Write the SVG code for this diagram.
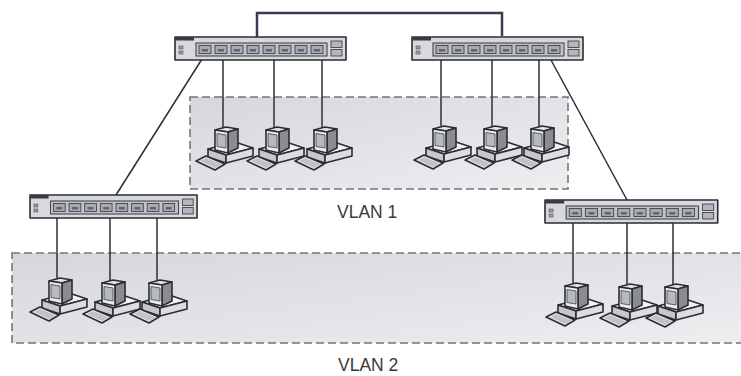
<svg xmlns="http://www.w3.org/2000/svg" width="741" height="376" viewBox="0 0 741 376">
  <style>
    .vlan { stroke: #74747a; stroke-width: 1.6; stroke-dasharray: 8 4; }
    .link { stroke: #3a3a52; stroke-width: 2.5; fill: none; }
    .drop { stroke: #2e2e36; stroke-width: 1.5; fill: none; }
    .label { font-family: "Liberation Sans", Arial, sans-serif; font-size: 17.5px; fill: #3a3a3e; }
    .ol { stroke: #2c2c32; stroke-width: 1.6; stroke-linejoin: round; }
  </style>
  <defs>
    <linearGradient id="vlanFill" x1="0" y1="0" x2="1" y2="1">
      <stop offset="0" stop-color="#d6d7dc"/>
      <stop offset="1" stop-color="#eeeef1"/>
    </linearGradient>

    <!-- 8-port switch, origin at top-left corner, 171 x 23 -->
    <g id="switch">
      <rect x="0" y="0" width="171" height="23" fill="#d7d9dd" class="ol"/>
      <rect x="0" y="0" width="19" height="3.5" fill="#3a3a44"/>
      <rect x="4" y="9" width="4" height="3" fill="#9a9ca2" stroke="#555" stroke-width="0.6"/>
      <rect x="4" y="14" width="4" height="3" fill="#9a9ca2" stroke="#555" stroke-width="0.6"/>
      <rect x="21" y="6" width="131" height="13" fill="#c0c3c8" stroke="#46464e" stroke-width="1.1"/>
      <g fill="#a6aab1" stroke="#44444c" stroke-width="0.9">
        <rect x="24" y="8.5" width="12" height="8"/>
        <rect x="40" y="8.5" width="12" height="8"/>
        <rect x="56" y="8.5" width="12" height="8"/>
        <rect x="72" y="8.5" width="12" height="8"/>
        <rect x="88" y="8.5" width="12" height="8"/>
        <rect x="104" y="8.5" width="12" height="8"/>
        <rect x="120" y="8.5" width="12" height="8"/>
        <rect x="136" y="8.5" width="12" height="8"/>
      </g>
      <g fill="#60646c">
        <rect x="27" y="12" width="6" height="2.5"/>
        <rect x="43" y="12" width="6" height="2.5"/>
        <rect x="59" y="12" width="6" height="2.5"/>
        <rect x="75" y="12" width="6" height="2.5"/>
        <rect x="91" y="12" width="6" height="2.5"/>
        <rect x="107" y="12" width="6" height="2.5"/>
        <rect x="123" y="12" width="6" height="2.5"/>
        <rect x="139" y="12" width="6" height="2.5"/>
      </g>
      <rect x="156" y="4" width="11" height="6.5" fill="#b3b7bd" stroke="#44444c" stroke-width="0.9"/>
      <rect x="156" y="12.5" width="11" height="6.5" fill="#b3b7bd" stroke="#44444c" stroke-width="0.9"/>
    </g>

    <!-- desktop PC, origin at the cable entry on top of the monitor -->
    <g id="pc">
      <!-- system unit -->
      <polygon points="-15,21 12,14 30,20 3,27" fill="#f3f3f4" class="ol"/>
      <polygon points="-15,21 3,27 3,35 -15,29" fill="#c6c7cb" class="ol"/>
      <polygon points="3,27 30,20 30,28 3,35" fill="#dcdde0" class="ol"/>
      <!-- monitor -->
      <polygon points="-8,2 3,-1 15,1 5,4" fill="#e2e3e6" class="ol"/>
      <polygon points="5,4 15,1 15,20 5,25" fill="#8a8c92" class="ol"/>
      <polygon points="-8,2 5,4 5,25 -8,22" fill="#ececee" class="ol"/>
      <polygon points="-6,5.5 3,7 3,20 -6,18.5" fill="#b5b9c0" stroke="#4e5056" stroke-width="0.9"/>
      <!-- keyboard -->
      <polygon points="-27,33 -17,28 2,36 -8,42" fill="#e9e9eb" class="ol"/>
      <polygon points="-23,33 -17,30 -1,36.5 -8,40" fill="#c0c2c6" stroke="none"/>
    </g>
  </defs>

  <rect width="741" height="376" fill="#ffffff"/>

  <!-- VLAN areas -->
  <g id="vlan1">
    <rect x="190" y="97" width="378" height="92" fill="url(#vlanFill)" class="vlan"/>
    <text x="337" y="218" class="label">VLAN 1</text>
  </g>
  <g id="vlan2">
    <rect x="12" y="253" width="735" height="90" fill="url(#vlanFill)" class="vlan"/>
    <text x="338" y="371" class="label">VLAN 2</text>
  </g>

  <!-- connectors -->
  <g id="connectors">
    <polyline points="257,37 257,13 502,13 502,36" class="link"/>
    <line x1="202" y1="59" x2="116" y2="195" class="drop"/>
    <line x1="551" y1="60" x2="627" y2="200" class="drop"/>
    <line x1="223" y1="59" x2="223" y2="128" class="drop"/>
    <line x1="274" y1="59" x2="274" y2="128" class="drop"/>
    <line x1="322" y1="59" x2="322" y2="128" class="drop"/>
    <line x1="441" y1="60" x2="441" y2="127" class="drop"/>
    <line x1="492" y1="60" x2="492" y2="127" class="drop"/>
    <line x1="539" y1="60" x2="539" y2="127" class="drop"/>
    <line x1="57" y1="218" x2="57" y2="279" class="drop"/>
    <line x1="110" y1="218" x2="110" y2="281" class="drop"/>
    <line x1="157" y1="218" x2="157" y2="281" class="drop"/>
    <line x1="573" y1="223" x2="573" y2="284" class="drop"/>
    <line x1="627" y1="223" x2="627" y2="285" class="drop"/>
    <line x1="673" y1="223" x2="673" y2="285" class="drop"/>
  </g>

  <!-- switches -->
  <g id="switch-core-left"><use href="#switch" transform="translate(175,37)"/></g>
  <g id="switch-core-right"><use href="#switch" transform="translate(412,37)"/></g>
  <g id="switch-access-left"><use href="#switch" transform="translate(30,195) scale(0.977,1)"/></g>
  <g id="switch-access-right"><use href="#switch" transform="translate(545,200) scale(1.01,1)"/></g>

  <!-- workstations -->
  <g id="pc-v1-1"><use href="#pc" transform="translate(223,128)"/></g>
  <g id="pc-v1-2"><use href="#pc" transform="translate(274,128)"/></g>
  <g id="pc-v1-3"><use href="#pc" transform="translate(322,128)"/></g>
  <g id="pc-v1-4"><use href="#pc" transform="translate(441,127)"/></g>
  <g id="pc-v1-5"><use href="#pc" transform="translate(492,127)"/></g>
  <g id="pc-v1-6"><use href="#pc" transform="translate(539,127)"/></g>
  <g id="pc-v2-1"><use href="#pc" transform="translate(57,279)"/></g>
  <g id="pc-v2-2"><use href="#pc" transform="translate(110,281)"/></g>
  <g id="pc-v2-3"><use href="#pc" transform="translate(157,281)"/></g>
  <g id="pc-v2-4"><use href="#pc" transform="translate(573,284)"/></g>
  <g id="pc-v2-5"><use href="#pc" transform="translate(627,285)"/></g>
  <g id="pc-v2-6"><use href="#pc" transform="translate(673,285)"/></g>
</svg>
